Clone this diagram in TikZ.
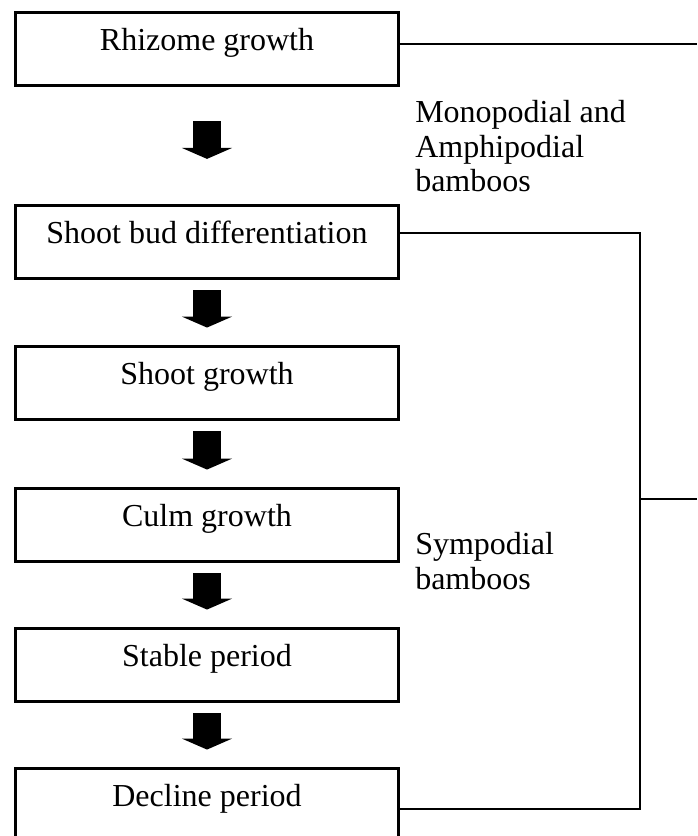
\documentclass[tikz,border=0pt]{standalone}
\usepackage{fontspec}
\setmainfont{Liberation Serif}
\usetikzlibrary{arrows.meta}

\begin{document}
\begin{tikzpicture}[
                x=0.75pt, y=-0.75pt,
                box/.style={
                    draw=black,
                    line width=2.4pt,
                    rectangle,
                    minimum width=287pt,
                    minimum height=54.75pt,
                    inner sep=0pt,
                    align=center,
                    text height=0.75em,
                    text depth=0.55em,
                    font=\fontsize{24pt}{26pt}\selectfont
                },
                note/.style={
                    anchor=north west,
                    inner sep=0pt,
                    align=left,
                    font=\fontsize{24pt}{26pt}\selectfont
                },
                link/.style={
                    line width=1.4pt
                },
                fatarrow/.style={
                    line width=21pt,
                    -{Triangle[length=8.25pt,width=37.5pt]}
                }
            ]
                \useasboundingbox (0,0) rectangle (697,836);

                \node[box] (rhizome) at (207,49)  {Rhizome growth};
                \node[box] (budbox)  at (207,242) {Shoot bud differentiation};
                \node[box] (shoot)   at (207,383) {Shoot growth};
                \node[box] (culm)    at (207,525) {Culm growth};
                \node[box] (stable)  at (207,665) {Stable period};
                \node[box] (decline) at (207,805) {Decline period};

                \node[note] (mono) at (415,100) {Monopodial and\\Amphipodial\\bamboos};
                \node[note] (symp) at (415,532) {Sympodial\\bamboos};

                \coordinate (monoEnd) at (697,44);
                \coordinate (sympFork) at (640,499);
                \coordinate (sympEnd) at (697,499);

                \draw[fatarrow] ([yshift=-25.5pt]rhizome.south) -- ([yshift=33.75pt]budbox.north);
                \draw[fatarrow] ([yshift=-7.5pt]budbox.south) -- ([yshift=13pt]shoot.north);
                \draw[fatarrow] ([yshift=-7.5pt]shoot.south) -- ([yshift=13pt]culm.north);
                \draw[fatarrow] ([yshift=-7.5pt]culm.south) -- ([yshift=13pt]stable.north);
                \draw[fatarrow] ([yshift=-7.5pt]stable.south) -- ([yshift=13pt]decline.north);

                \draw[link] (rhizome.east |- monoEnd) -- (monoEnd);
                \draw[link] ([yshift=6.75pt]budbox.east) -| (sympFork) |- ([yshift=-3pt]decline.east);
                \draw[link] (sympFork) -- (sympEnd);
        \end{tikzpicture}
\end{document}
